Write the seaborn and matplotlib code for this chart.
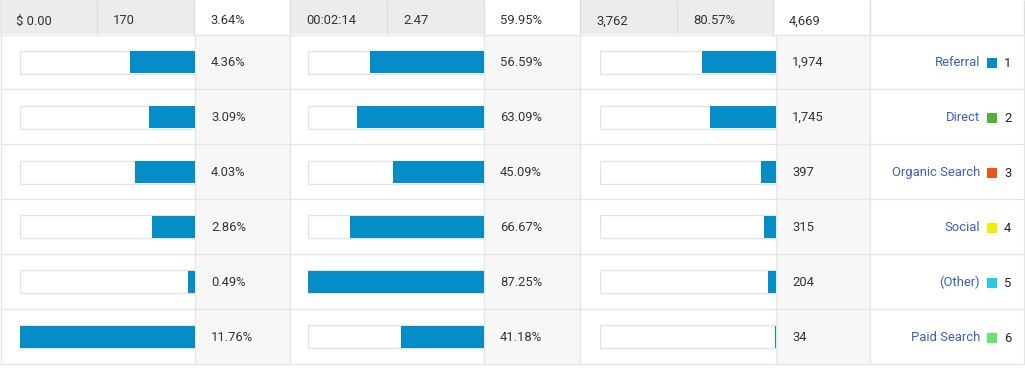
import matplotlib
matplotlib.use("Agg")
import matplotlib.pyplot as plt
import seaborn as sns
from matplotlib.patches import Rectangle

# estilo base
sns.set_style("white")
plt.rcParams['font.family'] = ['Roboto', 'DejaVu Sans']

# dados da tabela
channels = ['Referral', 'Direct', 'Organic Search', 'Social', '(Other)', 'Paid Search']
channel_ids = ['1', '2', '3', '4', '5', '6']
channel_colors = ['#058dc7', '#50b432', '#ed561b', '#edef00', '#24cbe5', '#64e572']
conv_rate = [4.36, 3.09, 4.03, 2.86, 0.49, 11.76]
bounce_rate = [56.59, 63.09, 45.09, 66.67, 87.25, 41.18]
sessions = [1974, 1745, 397, 315, 204, 34]
header_labels = ['$ 0.00', '170', '3.64%', '00:02:14', '2.47', '59.95%', '3,762', '80.57%', '4,669']

conv_labels = [f'{v:.2f}%' for v in conv_rate]
bounce_labels = [f'{v:.2f}%' for v in bounce_rate]
sess_labels = [f'{v:,}' for v in sessions]

W, H = 1025, 369
fig = plt.figure(figsize=(W / 100, H / 100), dpi=100)

# fundo em coordenadas de pixel
bg = fig.add_axes([0, 0, 1, 1])
bg.set_xlim(0, W)
bg.set_ylim(H, 0)
bg.axis('off')

head_h = 34
row_h = 55
n = len(channels)
top = head_h + 1
bottom = top + n * row_h - 1
line_c = '#e6e6e6'
text_c = '#333333'
fs = 9.4

# celulas do cabecalho
header_x = [0, 97, 194, 290, 387, 484, 580, 677, 773, 870]
white_head = [2, 5, 8]
for i in range(9):
    fc = 'white' if i in white_head else '#ececec'
    bg.add_patch(Rectangle((header_x[i], 0), header_x[i + 1] - header_x[i], head_h,
                           facecolor=fc, edgecolor='none'))
    bg.text(header_x[i] + 16, 21, header_labels[i], ha='left', va='center',
            fontsize=fs, color=text_c)
bg.add_patch(Rectangle((870, 0), W - 870, head_h, facecolor='white', edgecolor='none'))
for x in header_x[1:] + [W - 1]:
    bg.vlines(x, 0, head_h, color='#dddddd', lw=1)
bg.vlines(1, 0, bottom, color=line_c, lw=1)

# colunas de valores (cinza claro)
value_cols = [(195, 290, conv_labels), (484, 580, bounce_labels), (776, 870, sess_labels)]
for x0, x1, labels in value_cols:
    bg.add_patch(Rectangle((x0, top), x1 - x0, bottom - top, facecolor='#f7f7f7', edgecolor='none'))
    for r, lab in enumerate(labels):
        bg.text(x0 + 16, top + row_h * r + row_h / 2, lab, ha='left', va='center',
                fontsize=fs, color=text_c)

# linhas da grade
bg.hlines([head_h + 0.5] + [top - 1 + row_h * (r + 1) for r in range(n)], 0, W, color=line_c, lw=1)
for x in [195, 290, 484, 580, 776, 870, W - 1]:
    bg.vlines(x, head_h, bottom, color=line_c, lw=1)

# legenda dos canais
for r in range(n):
    yc = top + row_h * r + row_h / 2
    bg.text(980, yc, channels[r], ha='right', va='center', fontsize=fs, color='#3a5ccc')
    bg.add_patch(Rectangle((987, yc - 5), 10, 10, facecolor=channel_colors[r], edgecolor='none'))
    bg.text(1004, yc + 1, channel_ids[r], ha='left', va='center', fontsize=fs, color='#222222')

# barras horizontais (crescem da direita pra esquerda)
panels = [(20, 195, conv_rate, max(conv_rate)),
          (308, 484, bounce_rate, max(bounce_rate)),
          (600, 776, sessions, sum(sessions))]
for x0, x1, vals, vmax in panels:
    ax = fig.add_axes([x0 / W, (H - bottom) / H, (x1 - x0) / W, (bottom - top) / H])
    ax.patch.set_alpha(0)
    sns.barplot(x=[vmax] * n, y=channels, color='white', edgecolor='#e3e3e3',
                linewidth=1, width=0.42, ax=ax, saturation=1)
    sns.barplot(x=vals, y=channels, color='#058dc7', width=0.40, ax=ax,
                saturation=1, linewidth=0)
    ax.set_xlim(vmax, 0)
    ax.set_ylim(n - 0.5, -0.5)
    ax.set_xlabel('')
    ax.set_ylabel('')
    ax.set_xticks([])
    ax.set_yticks([])
    sns.despine(ax=ax, left=True, bottom=True)

fig.savefig('out.png', dpi=100)
